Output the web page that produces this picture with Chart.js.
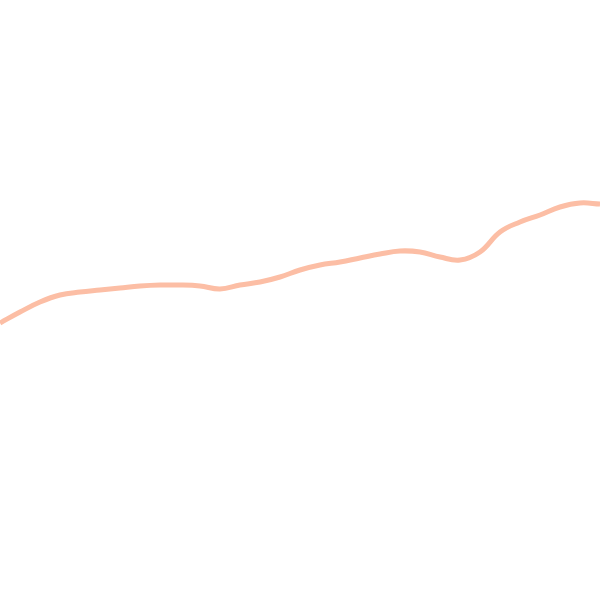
<!DOCTYPE html>
<html>
<head>
<meta charset="utf-8">
<script src="https://cdn.jsdelivr.net/npm/chart.js@4"></script>
<style>
  html, body { margin: 0; padding: 0; background: #fff; }
  #wrap { width: 600px; height: 600px; }
</style>
</head>
<body>
<div id="wrap"><canvas id="chart"></canvas></div>
<script>
// positions along the track, and the line's height (0 = bottom, 600 = top)
const labels = [0, 20, 40, 60, 80, 100, 120, 140, 160, 180, 200, 220, 240, 260, 280, 300,
                320, 340, 360, 380, 400, 420, 440, 460, 480, 500, 520, 540, 560, 580, 600];
const values = [277, 288, 298, 305, 308, 310, 312, 314, 315, 315, 314, 311, 315, 318, 323, 330,
                335, 338, 342, 346, 349, 348, 343, 340, 348, 368, 378, 385, 393, 397, 396];

const lineColor = '#fcbea5';

new Chart(document.getElementById('chart'), {
    type: 'line',
    data: {
        labels: labels,
        datasets: [{
            data: values,
            borderColor: lineColor,
            borderWidth: 5,
            pointRadius: 0,
            tension: 0.4,
            fill: false
        }]
    },
    options: {
        responsive: true,
        maintainAspectRatio: false,
        animation: false,
        layout: { padding: 0 },
        plugins: { legend: { display: false }, tooltip: { enabled: false } },
        scales: {
            x: { type: 'linear', min: 0, max: 600, display: false },
            y: { min: 0, max: 600, display: false }
        }
    }
});
</script>
</body>
</html>
